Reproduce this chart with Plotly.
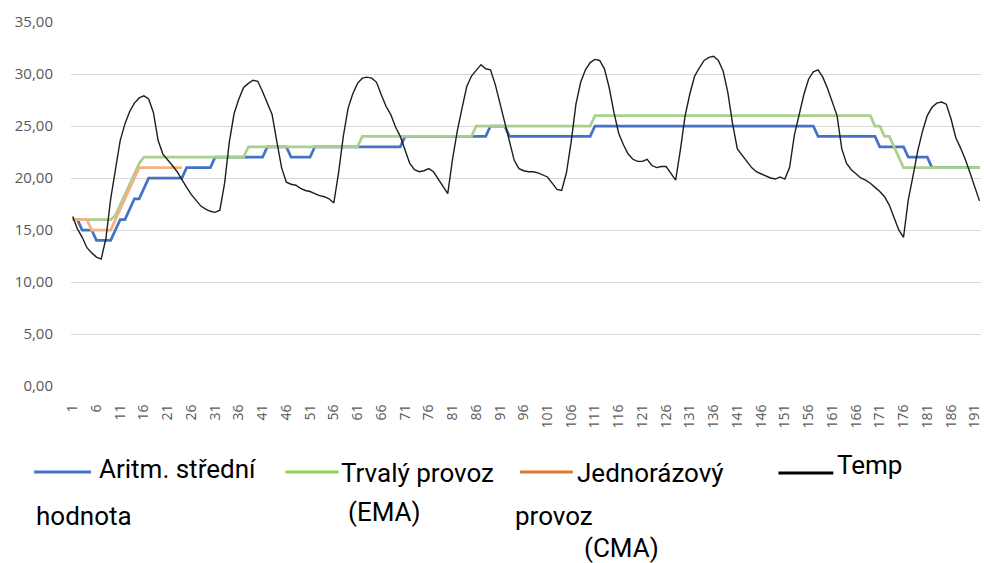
import plotly.graph_objects as go

# ---------------- data ----------------
hours = list(range(1, 193))
x_tick_labels = [1, 6, 11, 16, 21, 26, 31, 36, 41, 46, 51, 56, 61, 66, 71, 76, 81, 86, 91, 96,
                 101, 106, 111, 116, 121, 126, 131, 136, 141, 146, 151, 156, 161, 166, 171,
                 176, 181, 186, 191]
y_tick_values = [0, 5, 10, 15, 20, 25, 30, 35]

temp = [16.3, 15.1, 14.3, 13.3, 12.8, 12.4, 12.2, 14.2, 18.0, 21.0,
        23.6, 25.2, 26.4, 27.2, 27.7, 27.9, 27.6, 26.3, 23.6, 22.3,
        21.8, 21.2, 20.6, 19.8, 19.1, 18.4, 17.8, 17.3, 17.0, 16.8,
        16.7, 16.9, 19.5, 23.5, 26.2, 27.6, 28.7, 29.1, 29.4, 29.3,
        28.3, 27.2, 26.1, 23.5, 21.0, 19.6, 19.4, 19.3, 19.0, 18.8,
        18.7, 18.5, 18.3, 18.2, 18.0, 17.6, 20.5, 24.0, 26.7, 28.1,
        29.1, 29.6, 29.7, 29.6, 29.2, 28.0, 26.9, 26.1, 24.9, 24.0,
        22.6, 21.4, 20.8, 20.6, 20.7, 20.9, 20.6, 19.9, 19.2, 18.5,
        21.8, 24.5, 26.7, 28.8, 29.8, 30.4, 30.9, 30.5, 30.4, 29.0,
        27.2, 25.4, 23.6, 21.7, 20.9, 20.7, 20.6, 20.6, 20.5, 20.3,
        20.1, 19.5, 18.9, 18.8, 20.5, 23.5, 27.1, 29.2, 30.4, 31.1,
        31.4, 31.3, 30.5, 28.7, 26.3, 24.3, 23.2, 22.3, 21.8, 21.6,
        21.6, 21.8, 21.2, 21.0, 21.1, 21.1, 20.4, 19.8, 22.7, 26.0,
        28.1, 29.8, 30.6, 31.3, 31.6, 31.7, 31.3, 30.3, 28.2, 25.2,
        22.8, 22.2, 21.6, 21.0, 20.6, 20.4, 20.2, 20.0, 19.9, 20.1,
        19.9, 21.0, 24.1, 26.2, 28.0, 29.5, 30.2, 30.4, 29.7, 28.6,
        27.4, 26.0, 22.8, 21.4, 20.8, 20.4, 20.0, 19.8, 19.5, 19.1,
        18.7, 18.2, 17.4, 16.2, 15.0, 14.3, 17.9, 20.2, 22.6, 24.5,
        26.0, 26.8, 27.2, 27.3, 27.1, 25.7, 23.9, 22.9, 21.8, 20.5,
        19.2, 17.8]

aritm = ([16] * 2 + [15] * 3 + [14] * 4 + [15] + [16] * 2 + [17] + [18] * 2 + [19]
         + [20] * 8 + [21] * 6 + [22] * 11 + [23] * 5 + [22] * 5 + [23] * 19
         + [24] * 18 + [25] * 4 + [24] * 18 + [25] * 47 + [24] * 13 + [23] * 6
         + [22] * 5 + [21] * 11)

ema = ([16] * 9 + [16.4, 17.4, 18.4, 19.4, 20.4, 21.4] + [22] * 22 + [23] * 24
       + [24] * 24 + [25] * 25 + [26] * 59 + [25] * 2 + [24] * 2 + [23] + [22]
       + [21] * 17)

cma = ([16] * 4 + [15] * 5 + [16, 17, 18, 19, 20] + [21] * 10 + [None] * 168)

series_names = ["Aritm. střední hodnota", "Trvalý provoz (EMA)",
                "Jednorázový provoz (CMA)", "Temp"]

# ---------------- layout helpers ----------------
W, H = 984, 563
L, R, T, B = 71, 1, 22, 177
PW, PH = W - L - R, H - T - B


def px_x(px):
    return (px - L) / PW


def px_y(py):
    return (H - B - py) / PH


fig = go.Figure()
fig.add_trace(go.Scatter(x=hours, y=aritm, mode="lines", name=series_names[0],
                         line=dict(color="#4472C4", width=2.75)))
fig.add_trace(go.Scatter(x=hours, y=ema, mode="lines", name=series_names[1],
                         line=dict(color="#A9D18E", width=2.75)))
fig.add_trace(go.Scatter(x=hours, y=cma, mode="lines", name=series_names[2],
                         line=dict(color="#F4B183", width=2.75)))
fig.add_trace(go.Scatter(x=hours, y=temp, mode="lines", name=series_names[3],
                         line=dict(color="#1E1E1E", width=1.4)))

tick_font = dict(family="Open Sans", color="#595959")

fig.update_layout(
    width=W, height=H,
    margin=dict(l=L, r=R, t=T, b=B),
    paper_bgcolor="white", plot_bgcolor="white",
    separators=", ",
    showlegend=False,
    xaxis=dict(range=[0.643, 192.32], tickmode="array", tickvals=x_tick_labels,
               ticktext=[str(v) for v in x_tick_labels], tickangle=-90,
               showgrid=False, zeroline=False, showline=False,
               ticks="outside", ticklen=12, tickcolor="rgba(0,0,0,0)",
               ticklabeloverflow="allow",
               tickfont=dict(size=14, **tick_font)),
    yaxis=dict(range=[0, 35], tickmode="array", tickvals=y_tick_values,
               tickformat=".2f", showgrid=True, gridcolor="#D9D9D9", gridwidth=1,
               zeroline=False, showline=False,
               ticks="outside", ticklen=14, tickcolor="rgba(0,0,0,0)",
               tickfont=dict(size=15, **tick_font)),
)

# partially visible title (cropped at the top of the image)
fig.add_annotation(text="<b>Typické chování venkovní teploty a režimy provozu</b>",
                   xref="paper", yref="paper", x=px_x(104), y=px_y(2),
                   xanchor="left", yanchor="bottom", showarrow=False,
                   font=dict(family="Roboto", size=22, color="black"))

# custom legend
leg_font = dict(family="Roboto", size=26, color="black")
legend_lines = [
    (34, 91, 472, "#4472C4"),
    (286, 339, 472, "#92D050"),
    (521, 574, 472, "#E0782B"),
    (780, 835, 473, "#000000"),
]
for x0, x1, yy, col in legend_lines:
    fig.add_shape(type="line", xref="paper", yref="paper",
                  x0=px_x(x0), x1=px_x(x1), y0=px_y(yy), y1=px_y(yy),
                  line=dict(color=col, width=3))

legend_texts = [
    ("Aritm. střední", 97, 469),
    ("hodnota", 34, 516),
    ("Trvalý provoz", 340, 473),
    ("(EMA)", 347, 512),
    ("Jednorázový", 576, 473),
    ("provoz", 514, 516),
    ("(CMA)", 583, 548),
    ("Temp", 837, 465),
]
for txt, xx, yy in legend_texts:
    fig.add_annotation(text=txt, xref="paper", yref="paper",
                       x=px_x(xx), y=px_y(yy), xanchor="left", yanchor="middle",
                       showarrow=False, font=leg_font)

fig.write_html("out.html", config={"displayModeBar": False},
               post_script="document.body.style.margin='0';document.body.style.overflow='hidden';")
